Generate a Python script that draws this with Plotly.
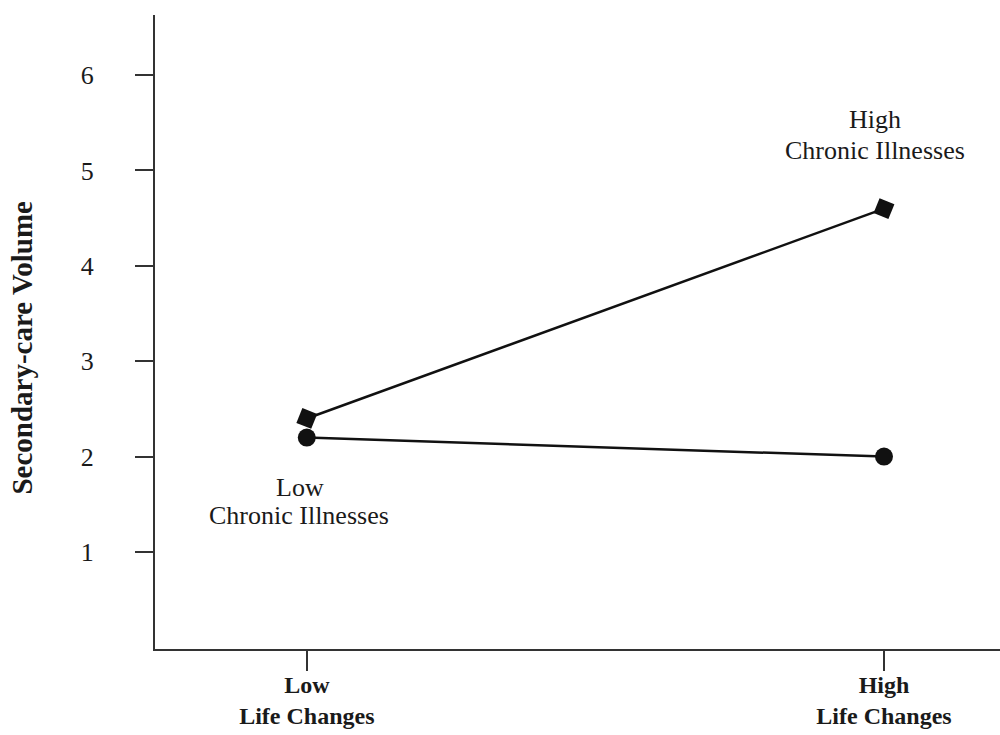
import plotly.graph_objects as go

# Moderation plot: secondary-care volume by life changes and chronic illnesses
x_levels = [0, 1]
x_labels = ["<b>Low</b><br><b>Life Changes</b>", "<b>High</b><br><b>Life Changes</b>"]
high_chronic = [2.4, 4.6]
low_chronic = [2.2, 2.0]
y_ticks = [1, 2, 3, 4, 5, 6]

FONT = "Liberation Serif, Times New Roman, serif"
INK = "#1a1a1a"
AXIS = "#333333"

fig = go.Figure()

fig.add_trace(go.Scatter(
    x=x_levels, y=high_chronic, mode="lines+markers",
    name="High Chronic Illnesses",
    line=dict(color="#111111", width=2.5),
    marker=dict(symbol="square", size=16, angle=22, color="#111111"),
))
fig.add_trace(go.Scatter(
    x=x_levels, y=low_chronic, mode="lines+markers",
    name="Low Chronic Illnesses",
    line=dict(color="#111111", width=2.5),
    marker=dict(symbol="circle", size=18, color="#111111"),
))

# Group labels next to the lines (two lines each, tight spacing)
group_labels = [
    ("High", 0.985, 5.53),
    ("Chronic Illnesses", 0.985, 5.21),
    ("Low", -0.012, 1.68),
    ("Chronic Illnesses", -0.014, 1.38),
]
annotations = [
    dict(x=x, y=y, xref="x", yref="y", text=t, showarrow=False,
         xanchor="center", yanchor="middle",
         font=dict(family=FONT, size=26, color=INK))
    for t, x, y in group_labels
]
annotations.append(dict(
    x=-0.157, y=0.476, xref="paper", yref="paper",
    text="<b>Secondary-care Volume</b>", textangle=-90, showarrow=False,
    xanchor="center", yanchor="middle",
    font=dict(family=FONT, size=29, color=INK),
))

fig.update_layout(
    width=1000, height=735,
    margin=dict(l=155, r=0, t=15, b=86),
    paper_bgcolor="white", plot_bgcolor="white",
    showlegend=False,
    annotations=annotations,
    xaxis=dict(
        range=[-0.263, 1.201], tickvals=x_levels, ticktext=x_labels,
        showgrid=False, zeroline=False, showline=True,
        linecolor=AXIS, linewidth=2, automargin=False,
        ticks="outside", ticklen=20, tickwidth=2, tickcolor=AXIS,
        ticklabelstandoff=-7,
        tickfont=dict(family=FONT, size=24, color=INK),
    ),
    yaxis=dict(
        range=[-0.017, 6.63], tickvals=y_ticks,
        showgrid=False, zeroline=False, showline=True,
        linecolor=AXIS, linewidth=2, automargin=False,
        ticks="outside", ticklen=18, tickwidth=2, tickcolor=AXIS,
        ticklabelstandoff=36,
        tickfont=dict(family=FONT, size=26, color=INK),
    ),
)

fig.write_html("out.html")
